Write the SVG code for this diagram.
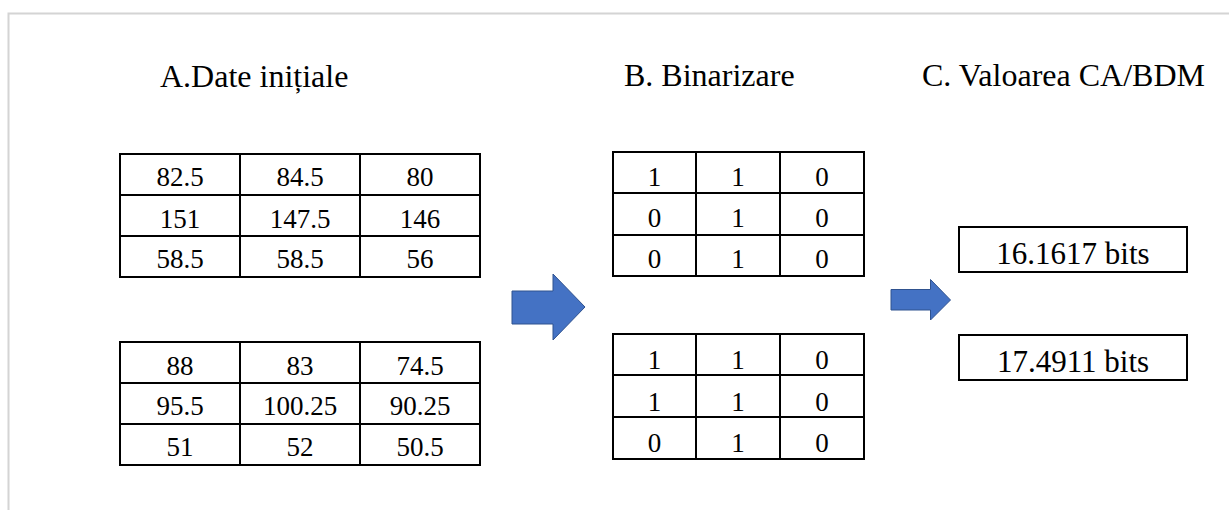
<svg xmlns="http://www.w3.org/2000/svg" width="1229" height="510" viewBox="0 0 1229 510" font-family="'Liberation Serif', 'DejaVu Serif', serif">
  <defs>
    <style>
      text { font-family: 'Liberation Serif', 'DejaVu Serif', serif; fill: #000; }
      .title { font-size: 32px; }
      .num { font-size: 27px; text-anchor: middle; }
      .val { font-size: 31px; text-anchor: middle; }
      .grid { fill: #fff; stroke: #000; stroke-width: 2; }
      .line { stroke: #000; stroke-width: 2; }
      .arrow { fill: #4472c4; stroke: #2f528f; stroke-width: 1; }
    </style>
  </defs>

  <rect width="1229" height="510" fill="#fff"/>
  <!-- page frame -->
  <path d="M8.5 510 V13.5 H1229" fill="none" stroke="#d4d4d4" stroke-width="2"/>

  <!-- section headings -->
  <g id="headings">
    <text class="title" x="160" y="87">A.Date inițiale</text>
    <text class="title" x="624" y="86">B. Binarizare</text>
    <text class="title" x="922" y="86">C. Valoarea CA/BDM</text>
  </g>

  <!-- raw data, sample 1 -->
  <g id="data1">
    <rect class="grid" x="120" y="154" width="360" height="123"/>
    <line class="line" x1="120" y1="195" x2="480" y2="195"/>
    <line class="line" x1="120" y1="236" x2="480" y2="236"/>
    <line class="line" x1="240" y1="154" x2="240" y2="277"/>
    <line class="line" x1="360" y1="154" x2="360" y2="277"/>
    <text class="num" x="180" y="186">82.5</text>
    <text class="num" x="300" y="186">84.5</text>
    <text class="num" x="420" y="186">80</text>
    <text class="num" x="180" y="228">151</text>
    <text class="num" x="300" y="228">147.5</text>
    <text class="num" x="420" y="228">146</text>
    <text class="num" x="180" y="268">58.5</text>
    <text class="num" x="300" y="268">58.5</text>
    <text class="num" x="420" y="268">56</text>
  </g>

  <!-- raw data, sample 2 -->
  <g id="data2">
    <rect class="grid" x="120" y="342" width="360" height="123"/>
    <line class="line" x1="120" y1="383" x2="480" y2="383"/>
    <line class="line" x1="120" y1="424" x2="480" y2="424"/>
    <line class="line" x1="240" y1="342" x2="240" y2="465"/>
    <line class="line" x1="360" y1="342" x2="360" y2="465"/>
    <text class="num" x="180" y="375">88</text>
    <text class="num" x="300" y="375">83</text>
    <text class="num" x="420" y="375">74.5</text>
    <text class="num" x="180" y="415">95.5</text>
    <text class="num" x="300" y="415">100.25</text>
    <text class="num" x="420" y="415">90.25</text>
    <text class="num" x="180" y="456">51</text>
    <text class="num" x="300" y="456">52</text>
    <text class="num" x="420" y="456">50.5</text>
  </g>

  <!-- binarized, sample 1 -->
  <g id="bin1">
    <rect class="grid" x="613" y="152" width="251" height="124"/>
    <line class="line" x1="613" y1="193" x2="864" y2="193"/>
    <line class="line" x1="613" y1="235" x2="864" y2="235"/>
    <line class="line" x1="696" y1="152" x2="696" y2="276"/>
    <line class="line" x1="780" y1="152" x2="780" y2="276"/>
    <text class="num" x="654.5" y="186">1</text>
    <text class="num" x="738" y="186">1</text>
    <text class="num" x="822" y="186">0</text>
    <text class="num" x="654.5" y="227">0</text>
    <text class="num" x="738" y="227">1</text>
    <text class="num" x="822" y="227">0</text>
    <text class="num" x="654.5" y="268">0</text>
    <text class="num" x="738" y="268">1</text>
    <text class="num" x="822" y="268">0</text>
  </g>

  <!-- binarized, sample 2 -->
  <g id="bin2">
    <rect class="grid" x="613" y="334" width="251" height="125"/>
    <line class="line" x1="613" y1="375" x2="864" y2="375"/>
    <line class="line" x1="613" y1="417" x2="864" y2="417"/>
    <line class="line" x1="696" y1="334" x2="696" y2="459"/>
    <line class="line" x1="780" y1="334" x2="780" y2="459"/>
    <text class="num" x="654.5" y="369">1</text>
    <text class="num" x="738" y="369">1</text>
    <text class="num" x="822" y="369">0</text>
    <text class="num" x="654.5" y="411">1</text>
    <text class="num" x="738" y="411">1</text>
    <text class="num" x="822" y="411">0</text>
    <text class="num" x="654.5" y="452">0</text>
    <text class="num" x="738" y="452">1</text>
    <text class="num" x="822" y="452">0</text>
  </g>

  <!-- result values -->
  <g id="value1">
    <rect class="grid" x="959" y="227" width="228" height="45"/>
    <text class="val" x="1073" y="264">16.1617 bits</text>
  </g>
  <g id="value2">
    <rect class="grid" x="959" y="335" width="228" height="45"/>
    <text class="val" x="1073" y="372">17.4911 bits</text>
  </g>

  <!-- block arrows between stages -->
  <g id="connectors">
    <path class="arrow" d="M512 291 H553 V274 L585 307 L553 340 V324 H512 Z"/>
    <path class="arrow" d="M891 289.5 H930.5 V279.5 L950.5 300 L930.5 320 V310 H891 Z"/>
  </g>
</svg>
